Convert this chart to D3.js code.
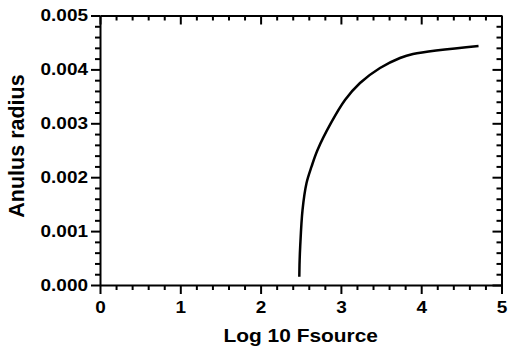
<!DOCTYPE html>
<html><head><meta charset="utf-8">
<script src="https://cdn.jsdelivr.net/npm/d3@7"></script>
<style>body{margin:0;background:#fff}svg{display:block}</style>
</head><body>
<script>
const xVals = [2.482, 2.486, 2.493, 2.522, 2.572, 2.634, 2.709, 2.877, 3.051, 3.238, 3.487, 3.736, 3.898, 4.714];
const yVals = [0.000154, 0.000450, 0.000711, 0.001391, 0.001892, 0.002195, 0.002505, 0.003006, 0.003432, 0.003748, 0.004026, 0.004212, 0.004286, 0.004434];
const xTicks = [0, 1, 2, 3, 4, 5];
const yTicks = [0, 0.001, 0.002, 0.003, 0.004, 0.005];
const xLabel = "Log 10 Fsource";
const yLabel = "Anulus radius";

const W = 509, H = 352;
const m = {l: 100, r: 7.5, t: 15.5, b: 67};
const FONT = "'Liberation Sans', Arial, sans-serif";
const SX = 1.15;
const svg = d3.select("body").append("svg").attr("width", W).attr("height", H);
const x = d3.scaleLinear().domain([0, 5]).range([m.l, W - m.r]);
const y = d3.scaleLinear().domain([0, 0.005]).range([H - m.b, m.t]);

const xMinor = d3.range(0, 5.0001, 0.2).filter(v => Math.abs(v - Math.round(v)) > 1e-6);
const yMinor = d3.range(0, 0.0050001, 0.0002).filter(v => Math.abs(v*1000 - Math.round(v*1000)) > 1e-6);

const fmt = d3.format(".3f");
function style(g){
  g.selectAll("path,line").attr("stroke","#000").attr("stroke-width",2);
  g.attr("font-size",16.5).attr("font-family",FONT).attr("font-weight","bold");
  g.selectAll("text").attr("fill","#000").each(function(){
    const t = d3.select(this);
    const tx = +t.attr("x") || 0;
    t.attr("x", 0).attr("transform", `translate(${tx},0) scale(${SX},1)`);
  });
}

// bottom
const gb = svg.append("g").attr("transform",`translate(0,${y(0)})`);
gb.call(d3.axisBottom(x).tickValues(xTicks).tickSize(9).tickSizeOuter(0).tickPadding(7).tickFormat(d3.format("d")));
gb.append("g").call(d3.axisBottom(x).tickValues(xMinor).tickSize(5).tickFormat("")).select(".domain").remove();
// left
const gl = svg.append("g").attr("transform",`translate(${x(0)},0)`);
gl.call(d3.axisLeft(y).tickValues(yTicks).tickSize(9).tickSizeOuter(0).tickPadding(3).tickFormat(fmt));
gl.append("g").call(d3.axisLeft(y).tickValues(yMinor).tickSize(5).tickFormat("")).select(".domain").remove();
// top (inward)
const gt = svg.append("g").attr("transform",`translate(0,${y(0.005)})`);
gt.call(d3.axisBottom(x).tickValues(xTicks).tickSize(9).tickSizeOuter(0).tickFormat(""));
gt.append("g").call(d3.axisBottom(x).tickValues(xMinor).tickSize(5).tickFormat("")).select(".domain").remove();
// right (inward)
const gr = svg.append("g").attr("transform",`translate(${x(5)},0)`);
gr.call(d3.axisLeft(y).tickValues(yTicks).tickSize(9).tickSizeOuter(0).tickFormat(""));
gr.append("g").call(d3.axisLeft(y).tickValues(yMinor).tickSize(5).tickFormat("")).select(".domain").remove();

[gb,gl,gt,gr].forEach(style);

svg.append("path").datum(xVals.map((v,i)=>[v,yVals[i]]))
  .attr("fill","none").attr("stroke","#000").attr("stroke-width",2.5)
  .attr("d", d3.line().x(d=>x(d[0])).y(d=>y(d[1])).curve(d3.curveCatmullRom.alpha(0.5)));

svg.append("text").attr("transform",`translate(${(x(0)+x(5))/2},342) scale(1.1,1)`).attr("text-anchor","middle")
  .attr("font-family",FONT).attr("font-weight","bold").attr("font-size",19).attr("fill","#000").text(xLabel);
svg.append("text").attr("transform",`translate(24,146) rotate(-90)`).attr("text-anchor","middle")
  .attr("font-family",FONT).attr("font-weight","bold").attr("font-size",21.5).attr("fill","#000").text(yLabel);
</script>
</body></html>
